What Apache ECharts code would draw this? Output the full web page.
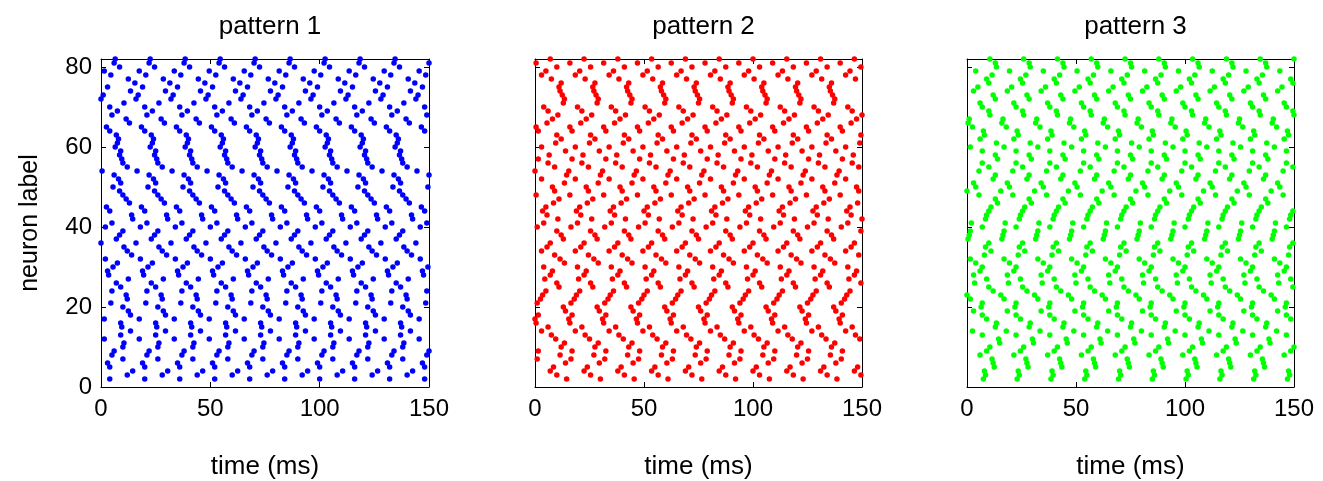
<!DOCTYPE html>
<html>
<head>
<meta charset="utf-8">
<script src="https://cdn.jsdelivr.net/npm/echarts@6/dist/echarts.min.js"></script>
<style>html,body{margin:0;padding:0;background:#fff}#c{width:1323px;height:481px}</style>
</head>
<body>
<div id="c"></div>
<script>
// Each row: [neuron label, spike times (ms)...]
const pattern1 = [
[82,6.5,22.5,38.5,54.5,70.5,86.5,102.5,118.5,134.5],
[81,6,22,38,54,70,86,102,118,134,150],
[80,8.5,24.5,40.5,56.5,72.5,88.5,104.5,120.5,136.5],
[79,1.5,17.5,33.5,49.5,65.5,81.5,97.5,113.5,129.5,145.5],
[78,4.5,20.5,36.5,52.5,68.5,84.5,100.5,116.5,132.5,148.5],
[77,12.5,28.5,44.5,60.5,76.5,92.5,108.5,124.5,140.5],
[76,15.5,31.5,47.5,63.5,79.5,95.5,111.5,127.5,143.5],
[75,3,19,35,51,67,83,99,115,131,147],
[74,13.5,29.5,45.5,61.5,77.5,93.5,109.5,125.5,141.5],
[73,1,17,33,49,65,81,97,113,129,145],
[72,0,16,32,48,64,80,96,112,128,144],
[71,10.5,26.5,42.5,58.5,74.5,90.5,106.5,122.5,138.5],
[70,4,20,36,52,68,84,100,116,132,148],
[69,7.5,23.5,39.5,55.5,71.5,87.5,103.5,119.5,135.5],
[68,5,21,37,53,69,85,101,117,133,149],
[67,11.5,27.5,43.5,59.5,75.5,91.5,107.5,123.5,139.5],
[66,13,29,45,61,77,93,109,125,141],
[65,2.5,18.5,34.5,50.5,66.5,82.5,98.5,114.5,130.5,146.5],
[64,4,20,36,52,68,84,100,116,132,148],
[63,7,23,39,55,71,87,103,119,135],
[62,8,24,40,56,72,88,104,120,136],
[61,7.5,23.5,39.5,55.5,71.5,87.5,103.5,119.5,135.5],
[60,6.5,22.5,38.5,54.5,70.5,86.5,102.5,118.5,134.5],
[59,9,25,41,57,73,89,105,121,137],
[58,8.5,24.5,40.5,56.5,72.5,88.5,104.5,120.5,136.5],
[57,9.5,25.5,41.5,57.5,73.5,89.5,105.5,121.5,137.5],
[56,10,26,42,58,74,90,106,122,138],
[55,12,28,44,60,76,92,108,124,140],
[54,0.5,16.5,32.5,48.5,64.5,80.5,96.5,112.5,128.5,144.5],
[53,6,22,38,54,70,86,102,118,134,150],
[52,8,24,40,56,72,88,104,120,136],
[51,9,25,41,57,73,89,105,121,137],
[50,5.5,21.5,37.5,53.5,69.5,85.5,101.5,117.5,133.5,149.5],
[49,8.5,24.5,40.5,56.5,72.5,88.5,104.5,120.5,136.5],
[48,10,26,42,58,74,90,106,122,138],
[47,11.5,27.5,43.5,59.5,75.5,91.5,107.5,123.5,139.5],
[46,13,29,45,61,77,93,109,125,141],
[45,2.5,18.5,34.5,50.5,66.5,82.5,98.5,114.5,130.5,146.5],
[44,4,20,36,52,68,84,100,116,132,148],
[43,14,30,46,62,78,94,110,126,142],
[42,14.5,30.5,46.5,62.5,78.5,94.5,110.5,126.5,142.5],
[41,5,21,37,53,69,85,101,117,133,149],
[40,2,18,34,50,66,82,98,114,130,146],
[39,10,26,42,58,74,90,106,122,138],
[38,8.5,24.5,40.5,56.5,72.5,88.5,104.5,120.5,136.5],
[37,7,23,39,55,71,87,103,119,135],
[36,0,16,32,48,64,80,96,112,128,144],
[35,10.5,26.5,42.5,58.5,74.5,90.5,106.5,122.5,138.5],
[34,12,28,44,60,76,92,108,124,140],
[33,14,30,46,62,78,94,110,126,142],
[32,2,18,34,50,66,82,98,114,130,146],
[31,7.5,23.5,39.5,55.5,71.5,87.5,103.5,119.5,135.5],
[30,5.5,21.5,37.5,53.5,69.5,85.5,101.5,117.5,133.5,149.5],
[29,3,19,35,51,67,83,99,115,131,147],
[28,3.5,19.5,35.5,51.5,67.5,83.5,99.5,115.5,131.5,147.5],
[27,12.5,28.5,44.5,60.5,76.5,92.5,108.5,124.5,140.5],
[26,7,23,39,55,71,87,103,119,135],
[25,9,25,41,57,73,89,105,121,137],
[24,5,21,37,53,69,85,101,117,133,149],
[23,11.5,27.5,43.5,59.5,75.5,91.5,107.5,123.5,139.5],
[22,12,28,44,60,76,92,108,124,140],
[21,4.5,20.5,36.5,52.5,68.5,84.5,100.5,116.5,132.5,148.5],
[20,10,26,42,58,74,90,106,122,138],
[19,12.5,28.5,44.5,60.5,76.5,92.5,108.5,124.5,140.5],
[18,13.5,29.5,45.5,61.5,77.5,93.5,109.5,125.5,141.5],
[17,1.5,17.5,33.5,49.5,65.5,81.5,97.5,113.5,129.5,145.5],
[16,9,25,41,57,73,89,105,121,137],
[15,9.5,25.5,41.5,57.5,73.5,89.5,105.5,121.5,137.5],
[14,13.5,29.5,45.5,61.5,77.5,93.5,109.5,125.5,141.5],
[13,9,25,41,57,73,89,105,121,137],
[12,1.5,17.5,33.5,49.5,65.5,81.5,97.5,113.5,129.5,145.5],
[11,10.5,26.5,42.5,58.5,74.5,90.5,106.5,122.5,138.5],
[10,10,26,42,58,74,90,106,122,138],
[9,6,22,38,54,70,86,102,118,134,150],
[8,5,21,37,53,69,85,101,117,133,149],
[7,10,26,42,58,74,90,106,122,138],
[6,3,19,35,51,67,83,99,115,131,147],
[5,4,20,36,52,68,84,100,116,132,148],
[4,14.5,30.5,46.5,62.5,78.5,94.5,110.5,126.5,142.5],
[3,12,28,44,60,76,92,108,124,140],
[2,4,20,36,52,68,84,100,116,132,148]
];
const pattern2 = [
[82,7,22.5,38,53.5,69,84.5,100,115.5,131,146.5],
[81,0.5,16,31.5,47,62.5,78,93.5,109,124.5,140],
[80,10,25.5,41,56.5,72,87.5,103,118.5,134,149.5],
[79,5,20.5,36,51.5,67,82.5,98,113.5,129,144.5],
[78,3,18.5,34,49.5,65,80.5,96,111.5,127,142.5],
[77,7.5,23,38.5,54,69.5,85,100.5,116,131.5,147],
[76,12,27.5,43,58.5,74,89.5,105,120.5,136],
[75,11,26.5,42,57.5,73,88.5,104,119.5,135],
[74,11.5,27,42.5,58,73.5,89,104.5,120,135.5],
[73,12.5,28,43.5,59,74.5,90,105.5,121,136.5],
[72,13.5,29,44.5,60,75.5,91,106.5,122,137.5],
[71,13,28.5,44,59.5,75,90.5,106,121.5,137],
[70,4,19.5,35,50.5,66,81.5,97,112.5,128,143.5],
[69,6,21.5,37,52.5,68,83.5,99,114.5,130,145.5],
[68,10.5,26,41.5,57,72.5,88,103.5,119,134.5,150],
[67,8,23.5,39,54.5,70,85.5,101,116.5,132,147.5],
[66,5.5,21,36.5,52,67.5,83,98.5,114,129.5,145],
[65,0.5,16,31.5,47,62.5,78,93.5,109,124.5,140],
[64,1.5,17,32.5,48,63.5,79,94.5,110,125.5,141],
[63,10,25.5,41,56.5,72,87.5,103,118.5,134,149.5],
[62,12,27.5,43,58.5,74,89.5,105,120.5,136],
[61,9.5,25,40.5,56,71.5,87,102.5,118,133.5,149],
[60,3,18.5,34,49.5,65,80.5,96,111.5,127,142.5],
[59,14,29.5,45,60.5,76,91.5,107,122.5,138],
[58,6.5,22,37.5,53,68.5,84,99.5,115,130.5,146],
[57,1.5,17,32.5,48,63.5,79,94.5,110,125.5,141],
[56,6,21.5,37,52.5,68,83.5,99,114.5,130,145.5],
[55,9,24.5,40,55.5,71,86.5,102,117.5,133,148.5],
[54,0,15.5,31,46.5,62,77.5,93,108.5,124,139.5],
[53,14.5,30,45.5,61,76.5,92,107.5,123,138.5],
[52,3,18.5,34,49.5,65,80.5,96,111.5,127,142.5],
[51,13.5,29,44.5,60,75.5,91,106.5,122,137.5],
[50,8,23.5,39,54.5,70,85.5,101,116.5,132,147.5],
[49,9,24.5,40,55.5,71,86.5,102,117.5,133,148.5],
[48,0.5,16,31.5,47,62.5,78,93.5,109,124.5,140],
[47,11,26.5,42,57.5,73,88.5,104,119.5,135],
[46,8.5,24,39.5,55,70.5,86,101.5,117,132.5,148],
[45,5,20.5,36,51.5,67,82.5,98,113.5,129,144.5],
[44,3.5,19,34.5,50,65.5,81,96.5,112,127.5,143],
[43,5.5,21,36.5,52,67.5,83,98.5,114,129.5,145],
[42,10.5,26,41.5,57,72.5,88,103.5,119,134.5,150],
[41,4,19.5,35,50.5,66,81.5,97,112.5,128,143.5],
[40,1,16.5,32,47.5,63,78.5,94,109.5,125,140.5],
[39,10,25.5,41,56.5,72,87.5,103,118.5,134,149.5],
[38,12,27.5,43,58.5,74,89.5,105,120.5,136],
[37,13,28.5,44,59.5,75,90.5,106,121.5,137],
[36,7,22.5,38,53.5,69,84.5,100,115.5,131,146.5],
[35,5.5,21,36.5,52,67.5,83,98.5,114,129.5,145],
[34,3,18.5,34,49.5,65,80.5,96,111.5,127,142.5],
[33,9,24.5,40,55.5,71,86.5,102,117.5,133,148.5],
[32,11.5,27,42.5,58,73.5,89,104.5,120,135.5],
[31,13.5,29,44.5,60,75.5,91,106.5,122,137.5],
[30,4,19.5,35,50.5,66,81.5,97,112.5,128,143.5],
[29,8,23.5,39,54.5,70,85.5,101,116.5,132,147.5],
[28,7,22.5,38,53.5,69,84.5,100,115.5,131,146.5],
[27,4.5,20,35.5,51,66.5,82,97.5,113,128.5,144],
[26,10,25.5,41,56.5,72,87.5,103,118.5,134,149.5],
[25,11,26.5,42,57.5,73,88.5,104,119.5,135],
[24,5,20.5,36,51.5,67,82.5,98,113.5,129,144.5],
[23,3.5,19,34.5,50,65.5,81,96.5,112,127.5,143],
[22,2.5,18,33.5,49,64.5,80,95.5,111,126.5,142],
[21,1,16.5,32,47.5,63,78.5,94,109.5,125,140.5],
[20,13,28.5,44,59.5,75,90.5,106,121.5,137],
[19,14,29.5,45,60.5,76,91.5,107,122.5,138],
[18,1.5,17,32.5,48,63.5,79,94.5,110,125.5,141],
[17,0,15.5,31,46.5,62,77.5,93,108.5,124,139.5],
[16,0.5,16,31.5,47,62.5,78,93.5,109,124.5,140],
[15,6,21.5,37,52.5,68,83.5,99,114.5,130,145.5],
[14,3,18.5,34,49.5,65,80.5,96,111.5,127,142.5],
[13,7.5,23,38.5,54,69.5,85,100.5,116,131.5,147],
[12,9.5,25,40.5,56,71.5,87,102.5,118,133.5,149],
[11,13.5,29,44.5,60,75.5,91,106.5,122,137.5],
[10,12,27.5,43,58.5,74,89.5,105,120.5,136],
[9,1.5,17,32.5,48,63.5,79,94.5,110,125.5,141],
[8,11.5,27,42.5,58,73.5,89,104.5,120,135.5],
[7,1,16.5,32,47.5,63,78.5,94,109.5,125,140.5],
[6,14,29.5,45,60.5,76,91.5,107,122.5,138],
[5,8.5,24,39.5,55,70.5,86,101.5,117,132.5,148],
[4,7,22.5,38,53.5,69,84.5,100,115.5,131,146.5],
[3,10,25.5,41,56.5,72,87.5,103,118.5,134,149.5],
[2,14.5,30,45.5,61,76.5,92,107.5,123,138.5]
];
const pattern3 = [
[82,10.5,26,41.5,57,72.5,88,103.5,119,134.5,150],
[81,13,28.5,44,59.5,75,90.5,106,121.5,137],
[80,13.5,29,44.5,60,75.5,91,106.5,122,137.5],
[79,4,19.5,35,50.5,66,81.5,97,112.5,128,143.5],
[78,11.5,27,42.5,58,73.5,89,104.5,120,135.5],
[77,9,24.5,40,55.5,71,86.5,102,117.5,133,148.5],
[76,10,25.5,41,56.5,72,87.5,103,118.5,134,149.5],
[75,5,20.5,36,51.5,67,82.5,98,113.5,129,144.5],
[74,3,18.5,34,49.5,65,80.5,96,111.5,127,142.5],
[73,12,27.5,43,58.5,74,89.5,105,120.5,136],
[72,13,28.5,44,59.5,75,90.5,106,121.5,137],
[71,6,21.5,37,52.5,68,83.5,99,114.5,130,145.5],
[70,7,22.5,38,53.5,69,84.5,100,115.5,131,146.5],
[69,10,25.5,41,56.5,72,87.5,103,118.5,134,149.5],
[68,10.5,26,41.5,57,72.5,88,103.5,119,134.5,150],
[67,1,16.5,32,47.5,63,78.5,94,109.5,125,140.5],
[66,0.5,16,31.5,47,62.5,78,93.5,109,124.5,140],
[65,2.5,18,33.5,49,64.5,80,95.5,111,126.5,142],
[64,7.5,23,38.5,54,69.5,85,100.5,116,131.5,147],
[63,8,23.5,39,54.5,70,85.5,101,116.5,132,147.5],
[62,6,21.5,37,52.5,68,83.5,99,114.5,130,145.5],
[61,13.5,29,44.5,60,75.5,91,106.5,122,137.5],
[60,1.5,17,32.5,48,63.5,79,94.5,110,125.5,141],
[59,7,22.5,38,53.5,69,84.5,100,115.5,131,146.5],
[58,13,28.5,44,59.5,75,90.5,106,121.5,137],
[57,14,29.5,45,60.5,76,91.5,107,122.5,138],
[56,7,22.5,38,53.5,69,84.5,100,115.5,131,146.5],
[55,10,25.5,41,56.5,72,87.5,103,118.5,134,149.5],
[54,5.5,21,36.5,52,67.5,83,98.5,114,129.5,145],
[53,13,28.5,44,59.5,75,90.5,106,121.5,137],
[52,12,27.5,43,58.5,74,89.5,105,120.5,136],
[51,3,18.5,34,49.5,65,80.5,96,111.5,127,142.5],
[50,4,19.5,35,50.5,66,81.5,97,112.5,128,143.5],
[49,0,15.5,31,46.5,62,77.5,93,108.5,124,139.5],
[48,5.5,21,36.5,52,67.5,83,98.5,114,129.5,145],
[47,13,28.5,44,59.5,75,90.5,106,121.5,137],
[46,14,29.5,45,60.5,76,91.5,107,122.5,138],
[45,11,26.5,42,57.5,73,88.5,104,119.5,135],
[44,10,25.5,41,56.5,72,87.5,103,118.5,134,149.5],
[43,9,24.5,40,55.5,71,86.5,102,117.5,133,148.5],
[42,8.5,24,39.5,55,70.5,86,101.5,117,132.5,148],
[41,2,17.5,33,48.5,64,79.5,95,110.5,126,141.5],
[40,7,22.5,38,53.5,69,84.5,100,115.5,131,146.5],
[39,1.5,17,32.5,48,63.5,79,94.5,110,125.5,141],
[38,1,16.5,32,47.5,63,78.5,94,109.5,125,140.5],
[37,0.5,16,31.5,47,62.5,78,93.5,109,124.5,140],
[36,10,25.5,41,56.5,72,87.5,103,118.5,134,149.5],
[35,8.5,24,39.5,55,70.5,86,101.5,117,132.5,148],
[34,11,26.5,42,57.5,73,88.5,104,119.5,135],
[33,8,23.5,39,54.5,70,85.5,101,116.5,132,147.5],
[32,1.5,17,32.5,48,63.5,79,94.5,110,125.5,141],
[31,4,19.5,35,50.5,66,81.5,97,112.5,128,143.5],
[30,7,22.5,38,53.5,69,84.5,100,115.5,131,146.5],
[29,6,21.5,37,52.5,68,83.5,99,114.5,130,145.5],
[28,3,18.5,34,49.5,65,80.5,96,111.5,127,142.5],
[27,9,24.5,40,55.5,71,86.5,102,117.5,133,148.5],
[26,3.5,19,34.5,50,65.5,81,96.5,112,127.5,143],
[25,10,25.5,41,56.5,72,87.5,103,118.5,134,149.5],
[24,12,27.5,43,58.5,74,89.5,105,120.5,136],
[23,0,15.5,31,46.5,62,77.5,93,108.5,124,139.5],
[22,1.5,17,32.5,48,63.5,79,94.5,110,125.5,141],
[21,7,22.5,38,53.5,69,84.5,100,115.5,131,146.5],
[20,6.5,22,37.5,53,68.5,84,99.5,115,130.5,146],
[19,3,18.5,34,49.5,65,80.5,96,111.5,127,142.5],
[18,7,22.5,38,53.5,69,84.5,100,115.5,131,146.5],
[17,9,24.5,40,55.5,71,86.5,102,117.5,133,148.5],
[16,13.5,29,44.5,60,75.5,91,106.5,122,137.5],
[15,13,28.5,44,59.5,75,90.5,106,121.5,137],
[14,2.5,18,33.5,49,64.5,80,95.5,111,126.5,142],
[13,7,22.5,38,53.5,69,84.5,100,115.5,131,146.5],
[12,14.5,30,45.5,61,76.5,92,107.5,123,138.5],
[11,15,30.5,46,61.5,77,92.5,108,123.5,139],
[10,10.5,26,41.5,57,72.5,88,103.5,119,134.5,150],
[9,9,24.5,40,55.5,71,86.5,102,117.5,133,148.5],
[8,6,21.5,37,52.5,68,83.5,99,114.5,130,145.5],
[7,11.5,27,42.5,58,73.5,89,104.5,120,135.5],
[6,12,27.5,43,58.5,74,89.5,105,120.5,136],
[5,12.5,28,43.5,59,74.5,90,105.5,121,136.5],
[4,8,23.5,39,54.5,70,85.5,101,116.5,132,147.5],
[3,8.5,24,39.5,55,70.5,86,101.5,117,132.5,148],
[2,7.5,23,38.5,54,69.5,85,100.5,116,131.5,147]
];
const titles = ['pattern 1', 'pattern 2', 'pattern 3'];
const colors = ['#0000ff', '#ff0000', '#00ff00'];
const xTicks = [0, 50, 100, 150];
const yTicks = [0, 20, 40, 60, 80];
const xName = 'time (ms)';
const yName = 'neuron label';

const FONT = '"Liberation Sans", Arial, sans-serif';
const grids = [
  {left: 101, top: 59, width: 328, height: 328, containLabel: false, outerBoundsMode: 'none'},
  {left: 535, top: 59, width: 327, height: 328, containLabel: false, outerBoundsMode: 'none'},
  {left: 967, top: 59, width: 327, height: 328, containLabel: false, outerBoundsMode: 'none'}
];
const patterns = [pattern1, pattern2, pattern3];
const line = {show: true, lineStyle: {color: '#000', width: 1}, onZero: false};
const tick = {show: true, inside: true, length: 5, lineStyle: {color: '#000', width: 1}};

const xAxis = [], yAxis = [], series = [], title = [];
grids.forEach((g, i) => {
  const xFmt = v => (xTicks.indexOf(v) >= 0 ? String(v) : '');
  const yFmt = v => (yTicks.indexOf(v) >= 0 ? String(v) : '');
  xAxis.push({
    gridIndex: i, type: 'value', position: 'bottom', min: 0, max: 150, interval: 50,
    axisLine: line, axisTick: tick, splitLine: {show: false},
    axisLabel: {show: true, formatter: xFmt, fontSize: 24, color: '#000', fontFamily: FONT, margin: 10},
    name: xName, nameLocation: 'middle', nameGap: 67,
    nameTextStyle: {fontSize: 26, color: '#000', fontFamily: FONT}
  });
  xAxis.push({
    gridIndex: i, type: 'value', position: 'top', min: 0, max: 150, interval: 50,
    axisLine: line, axisTick: tick, splitLine: {show: false}, axisLabel: {show: false}
  });
  yAxis.push({
    gridIndex: i, type: 'value', position: 'left', min: 0, max: 82, interval: 20,
    axisLine: line, axisTick: tick, splitLine: {show: false},
    axisLabel: {show: i === 0, formatter: yFmt, fontSize: 24, color: '#000', fontFamily: FONT, margin: 9},
    name: i === 0 ? yName : '', nameLocation: 'middle', nameGap: 58,
    nameTextStyle: {fontSize: 25, color: '#000', fontFamily: FONT}
  });
  yAxis.push({
    gridIndex: i, type: 'value', position: 'right', min: 0, max: 82, interval: 20,
    axisLine: line, axisTick: tick, splitLine: {show: false}, axisLabel: {show: false}
  });
  const data = [];
  patterns[i].forEach(row => {
    for (let k = 1; k < row.length; k++) data.push([row[k], row[0]]);
  });
  series.push({
    type: 'scatter', xAxisIndex: 2 * i, yAxisIndex: 2 * i, data: data,
    symbol: 'circle', symbolSize: 5.5, clip: false, silent: true,
    itemStyle: {color: colors[i], opacity: 1}
  });
  title.push({
    text: titles[i], left: g.left + g.width / 2, top: 9, textAlign: 'center',
    textStyle: {fontSize: 26, fontWeight: 'normal', color: '#000', fontFamily: FONT}
  });
});

const chart = echarts.init(document.getElementById('c'), null, {renderer: 'canvas'});
chart.setOption({
  backgroundColor: '#fff', animation: false,
  title: title, grid: grids, xAxis: xAxis, yAxis: yAxis, series: series
});
</script>
</body>
</html>
